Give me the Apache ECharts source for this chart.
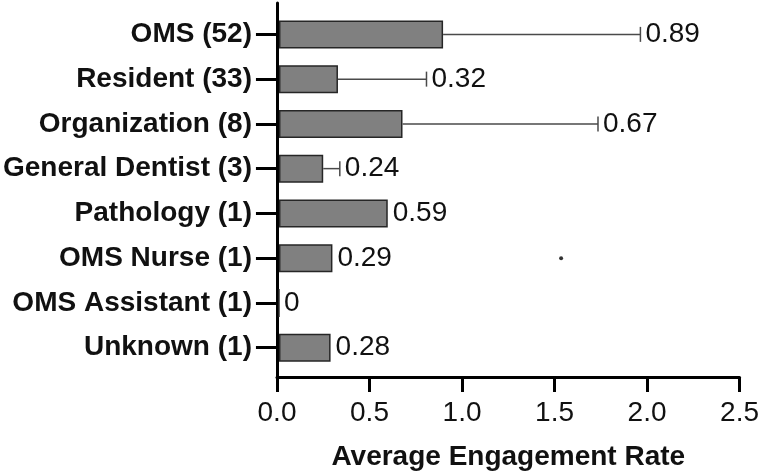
<!DOCTYPE html>
<html>
<head>
<meta charset="utf-8">
<script src="https://cdn.jsdelivr.net/npm/echarts@6/dist/echarts.min.js"></script>
<style>html,body{margin:0;padding:0;background:#fff}#c{width:762px;height:476px}</style>
</head>
<body>
<div id="c"></div>
<script>
var categories = ['OMS (52)', 'Resident (33)', 'Organization (8)', 'General Dentist (3)', 'Pathology (1)', 'OMS Nurse (1)', 'OMS Assistant (1)', 'Unknown (1)'];
var means = [0.89, 0.32, 0.67, 0.24, 0.59, 0.29, 0, 0.28];
var errUpper = [1.96, 0.80, 1.73, 0.33, null, null, null, null];
var xMin = 0, xMax = 2.5, xInterval = 0.5;
var strayDot = [[1.53, 5.15]];

var FONT = '"Liberation Sans", Arial, sans-serif';
var chart = echarts.init(document.getElementById('c'), null, {renderer: 'canvas'});

var errData = categories.map(function (c, i) {
  return [i, means[i], errUpper[i] == null ? '-' : errUpper[i]];
});

var option = {
  animation: false,
  backgroundColor: '#fff',
  grid: [
    {left: 277, right: 22, top: 3, bottom: 99, containLabel: false},
    {left: 277, right: 22, top: 12, bottom: 106, containLabel: false}
  ],
  xAxis: [
    {
      gridIndex: 0, type: 'value', min: xMin, max: xMax, interval: xInterval,
      axisLine: {show: true, lineStyle: {color: '#000', width: 3}},
      axisTick: {show: true, length: 15, lineStyle: {color: '#000', width: 3}},
      axisLabel: {color: '#111', fontSize: 28, fontFamily: FONT, margin: 22,
        formatter: function (v) { return v.toFixed(1); }},
      splitLine: {show: false},
      name: 'Average Engagement Rate', nameLocation: 'middle', nameGap: 66,
      nameTextStyle: {color: '#111', fontSize: 28, fontWeight: 'bold', fontFamily: FONT}
    },
    {
      gridIndex: 1, type: 'value', min: xMin, max: xMax, show: false
    }
  ],
  yAxis: [
    {
      gridIndex: 0, type: 'value', min: 0, max: 1,
      axisLine: {show: true, lineStyle: {color: '#000', width: 3}},
      axisTick: {show: false}, axisLabel: {show: false}, splitLine: {show: false}
    },
    {
      gridIndex: 1, type: 'category', data: categories, inverse: true,
      axisLine: {show: false},
      axisTick: {show: true, alignWithLabel: true, length: 23, lineStyle: {color: '#000', width: 3}},
      axisLabel: {color: '#111', fontSize: 28, fontWeight: 'bold', fontFamily: FONT, margin: 27},
      splitLine: {show: false}
    }
  ],
  series: [
    {
      type: 'bar', xAxisIndex: 1, yAxisIndex: 1, data: means, barWidth: 28,
      itemStyle: {color: '#808080', borderColor: '#262626', borderWidth: 1.5},
      z: 2
    },
    {
      type: 'custom', xAxisIndex: 1, yAxisIndex: 1, data: errData,
      encode: {x: [1, 2], y: 0},
      z: 3,
      renderItem: function (params, api) {
        var i = api.value(0), m = api.value(1), up = api.value(2);
        var p0 = api.coord([m, i]);
        var children = [];
        var endX = p0[0];
        if (!isNaN(up)) {
          var p1 = api.coord([up, i]);
          endX = p1[0];
          var st = {stroke: '#4a4a4a', lineWidth: 1.5};
          children.push({type: 'line', shape: {x1: p0[0], y1: p0[1], x2: p1[0], y2: p1[1]}, style: st});
          children.push({type: 'line', shape: {x1: p1[0], y1: p1[1] - 7.5, x2: p1[0], y2: p1[1] + 7.5}, style: st});
        }
        children.push({
          type: 'text',
          style: {
            text: String(means[i]), x: endX + 5, y: p0[1],
            fill: '#111', fontSize: 28, fontFamily: FONT,
            align: 'left', verticalAlign: 'middle'
          }
        });
        return {type: 'group', children: children};
      }
    },
    {
      type: 'scatter', xAxisIndex: 1, yAxisIndex: 1, data: strayDot,
      symbolSize: 4, itemStyle: {color: '#000'}, z: 4
    }
  ]
};
chart.setOption(option);
</script>
</body>
</html>
